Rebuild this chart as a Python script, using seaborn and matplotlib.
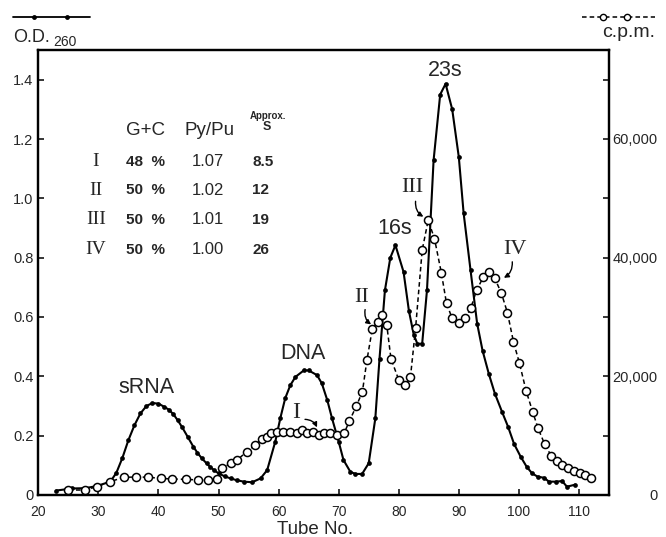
import numpy as np
import pandas as pd
import matplotlib
matplotlib.use("Agg")
import matplotlib.pyplot as plt
import seaborn as sns
from matplotlib.lines import Line2D

# ---------------- data ----------------
od_tube = [23.0, 25.6, 27.8, 29.7, 32.0, 33.0, 34.0, 35.0, 36.0, 37.0, 38.0, 39.0, 40.0,
           40.9, 41.7, 42.5, 43.2, 43.9, 44.9, 45.8, 46.5, 47.2, 48.0, 48.6, 49.3, 50.0,
           51.0, 52.0, 53.0, 54.2, 55.6, 57.0, 58.1, 59.45, 60.3, 61.1, 61.95, 62.8, 64.2,
           65.0, 66.4, 67.2, 68.1, 68.9, 70.0, 70.8, 71.95, 72.8, 73.9, 75.0, 76.1, 76.8,
           77.7, 78.6, 79.45, 80.8, 81.7, 82.5, 83.1, 83.9, 84.7, 85.8, 86.9, 87.8, 88.9,
           90.0, 90.8, 91.95, 93.05, 93.95, 95.0, 96.0, 97.2, 98.2, 99.2, 100.3, 101.3,
           102.2, 103.1, 104.2, 105.0, 106.1, 107.2, 108.0, 109.4]
od_value = [0.015, 0.022, 0.023, 0.030, 0.045, 0.075, 0.125, 0.185, 0.235, 0.275, 0.300,
            0.310, 0.308, 0.298, 0.288, 0.272, 0.252, 0.230, 0.195, 0.163, 0.142, 0.124,
            0.107, 0.095, 0.083, 0.073, 0.063, 0.056, 0.050, 0.045, 0.043, 0.056, 0.084,
            0.180, 0.260, 0.326, 0.370, 0.398, 0.420, 0.420, 0.404, 0.376, 0.320, 0.258,
            0.180, 0.118, 0.078, 0.071, 0.071, 0.107, 0.258, 0.460, 0.690, 0.800, 0.842,
            0.752, 0.620, 0.540, 0.510, 0.510, 0.690, 1.128, 1.350, 1.386, 1.300, 1.139,
            0.950, 0.758, 0.578, 0.487, 0.408, 0.342, 0.280, 0.230, 0.172, 0.129, 0.095,
            0.073, 0.062, 0.058, 0.045, 0.045, 0.047, 0.028, 0.035]

cpm_tube = [25.0, 27.8, 29.7, 31.95, 34.2, 36.2, 38.2, 40.4, 42.3, 44.6, 46.6, 48.3, 49.8,
            50.6, 52.0, 53.1, 54.7, 56.1, 57.2, 58.0, 58.8, 59.7, 60.8, 61.95, 63.1, 63.9,
            64.7, 65.8, 66.7, 67.5, 68.6, 69.7, 70.95, 71.8, 72.95, 73.95, 74.7, 75.6, 76.5,
            77.2, 78.0, 78.7, 80.0, 81.1, 81.95, 82.8, 83.9, 84.9, 85.95, 87.1, 87.95, 88.9,
            90.0, 91.1, 92.0, 92.95, 94.1, 95.0, 96.0, 97.1, 98.1, 99.1, 100.1, 101.2, 102.3,
            103.2, 104.3, 105.4, 106.3, 107.2, 108.2, 109.2, 110.2, 111.0, 111.95]
cpm_value = [840, 840, 1400, 2240, 2980, 3030, 3000, 2800, 2700, 2640, 2530, 2500, 2700,
             4500, 5330, 5900, 7300, 8420, 9500, 9720, 10390, 10660, 10700, 10600, 10390,
             10950, 10400, 10700, 10100, 10500, 10500, 10100, 10500, 12500, 15000, 17400,
             22700, 28000, 29200, 30300, 28700, 23000, 19400, 18500, 19900, 28070, 41260,
             46300, 43200, 37400, 32300, 29750, 29000, 29750, 31500, 34500, 36760, 37600,
             36500, 33970, 30700, 25800, 22200, 17560, 14000, 11230, 8540, 6570, 5730,
             5050, 4490, 4090, 3650, 3300, 2920]

x_ticks = [20, 30, 40, 50, 60, 70, 80, 90, 100, 110]
od_ticks = [0, 0.2, 0.4, 0.6, 0.8, 1.0, 1.2, 1.4]
od_tick_labels = ["0", "0.2", "0.4", "0.6", "0.8", "1.0", "1.2", "1.4"]
cpm_ticks = [0, 20000, 40000, 60000]
cpm_tick_labels = ["0", "20,000", "40,000", "60,000"]
cpm_minor = [10000, 30000, 50000, 70000]

table_rows = ["I", "II", "III", "IV"]
table_gc = ["48  %", "50  %", "50  %", "50  %"]
table_pypu = ["1.07", "1.02", "1.01", "1.00"]
table_s = ["8.5", "12", "19", "26"]

# ---------------- style ----------------
sns.set_theme(style="ticks")
plt.rcParams["font.family"] = ["Liberation Sans", "DejaVu Sans"]
SERIF = ["Liberation Serif", "DejaVu Serif"]

W, H = 666, 537
fig = plt.figure(figsize=(W / 100, H / 100), dpi=100)
x0, x1, y0, y1 = 38.3, 609, 50, 495
ax = fig.add_axes([x0 / W, 1 - y1 / H, (x1 - x0) / W, (y1 - y0) / H])

od_df = pd.DataFrame({"tube": od_tube, "od": od_value})
cpm_df = pd.DataFrame({"tube": cpm_tube, "cpm": cpm_value})

sns.lineplot(data=od_df, x="tube", y="od", ax=ax, color="black", linewidth=1.5,
             marker="o", markersize=3.4, markeredgewidth=0, estimator=None, sort=False)

ax2 = ax.twinx()
sns.lineplot(data=cpm_df, x="tube", y="cpm", ax=ax2, color="black", linewidth=1.1,
             linestyle=(0, (3, 2)), marker="o", markersize=5.8, markerfacecolor="white",
             markeredgecolor="black", markeredgewidth=1.1, estimator=None, sort=False)

ax.set_xlim(20, 115)
ax.set_ylim(0, 1.5)
ax2.set_ylim(0, 75000)
ax.set_ylabel("")
ax2.set_ylabel("")

ax.set_xticks(x_ticks)
ax.set_xticklabels([str(t) for t in x_ticks])
ax.set_yticks(od_ticks)
ax.set_yticklabels(od_tick_labels)
ax.tick_params(axis="y", direction="in", length=4, width=1.3, labelsize=10.5, pad=3.5,
               right=False)
ax.tick_params(axis="x", direction="in", length=4, width=1.3, labelsize=10, pad=7,
               top=False)

ax2.set_yticks(cpm_ticks)
ax2.set_yticklabels(cpm_tick_labels)
ax2.set_yticks(cpm_minor, minor=True)
ax2.tick_params(axis="y", which="both", direction="in", length=4, width=1.3,
                labelsize=10.5, pad=35, left=False)
for lab in ax2.get_yticklabels():
    lab.set_horizontalalignment("right")

for a in (ax, ax2):
    for s in a.spines.values():
        s.set_visible(True)
        s.set_linewidth(1.6)
        s.set_color("black")

ax.set_xlabel("Tube No.", fontsize=13.5)
ax.xaxis.set_label_coords((315 - x0) / (x1 - x0), (y1 - 521) / (y1 - y0))
ax.xaxis.label.set_verticalalignment("top")

# ---------------- annotations ----------------
for txt, x, y in [("sRNA", 38.0, 0.364), ("DNA", 64.0, 0.477),
                  ("16s", 79.4, 0.90), ("23s", 87.8, 1.43)]:
    ax.text(x, y, txt, fontsize=15.5, ha="center", va="center")

arrow = dict(arrowstyle="-|>", lw=1.0, color="black", mutation_scale=7,
             shrinkA=0, shrinkB=0)
ax.text(62.9, 0.278, "I", family=SERIF, fontsize=17, ha="center", va="center")
ax.annotate("", xy=(66.4, 0.228), xytext=(64.4, 0.255),
            arrowprops=dict(arrow, connectionstyle="arc3,rad=-0.3"))
ax.text(73.8, 0.667, "II", family=SERIF, fontsize=16, ha="center", va="center")
ax.annotate("", xy=(75.4, 0.575), xytext=(74.4, 0.625),
            arrowprops=dict(arrow, connectionstyle="arc3,rad=0.3"))
ax.text(82.2, 1.036, "III", family=SERIF, fontsize=16, ha="center", va="center")
ax.annotate("", xy=(84.1, 0.938), xytext=(82.8, 0.99),
            arrowprops=dict(arrow, connectionstyle="arc3,rad=0.3"))
ax.text(99.4, 0.826, "IV", family=SERIF, fontsize=16, ha="center", va="center")
ax.annotate("", xy=(97.5, 0.732), xytext=(98.9, 0.786),
            arrowprops=dict(arrow, connectionstyle="arc3,rad=-0.3"))

# ---------------- inset table ----------------
ax.text(37.8, 1.23, "G+C", fontsize=13.5, ha="center", va="center")
ax.text(48.5, 1.23, "Py/Pu", fontsize=13.5, ha="center", va="center")
ax.text(58.3, 1.279, "Approx.", fontsize=7, fontweight="bold", ha="center", va="center")
ax.text(58.1, 1.239, "S", fontsize=9, fontweight="bold", ha="center", va="center")
row_y = [1.123, 1.028, 0.927, 0.826]
for r, gcv, pp, sv, yy in zip(table_rows, table_gc, table_pypu, table_s, row_y):
    ax.text(29.6, yy, r, family=SERIF, fontsize=14, ha="center", va="center")
    ax.text(37.8, yy, gcv, fontsize=11, fontweight="bold", ha="center", va="center")
    ax.text(48.3, yy, pp, fontsize=12, ha="center", va="center")
    ax.text(55.6, yy, sv, fontsize=11, fontweight="bold", ha="left", va="center")

# ---------------- axis keys at the top ----------------
yl = 1 - 17 / H
fig.add_artist(Line2D([13 / W, 90 / W], [yl, yl], transform=fig.transFigure,
                      color="black", lw=1.3))
fig.add_artist(Line2D([34 / W, 67 / W], [yl, yl], transform=fig.transFigure,
                      ls="none", marker="o", ms=3.5, mew=0, color="black"))
fig.text(13 / W, 1 - 42 / H, "O.D.", fontsize=13, ha="left", va="baseline")
fig.text(53 / W, 1 - 46 / H, "260", fontsize=10, ha="left", va="baseline")

fig.add_artist(Line2D([582 / W, 655 / W], [yl, yl], transform=fig.transFigure,
                      color="black", lw=1.1, ls=(0, (3, 2))))
fig.add_artist(Line2D([603 / W, 627 / W], [yl, yl], transform=fig.transFigure,
                      ls="none", marker="o", ms=4.5, mfc="white", mec="black", mew=1.0))
fig.text(655 / W, 1 - 37 / H, "c.p.m.", fontsize=14, ha="right", va="baseline")

fig.savefig("out.png", dpi=100, facecolor="white")
